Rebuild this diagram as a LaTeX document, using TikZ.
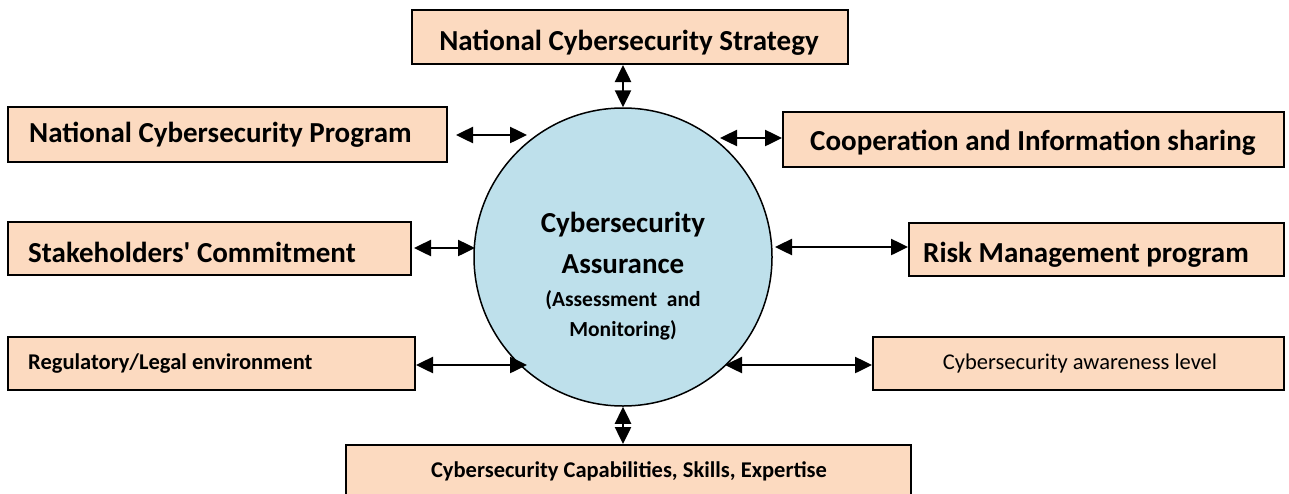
\documentclass[tikz,border=0pt]{standalone}
\usepackage{fontspec}
\setmainfont{Carlito}
\usetikzlibrary{arrows.meta}
\definecolor{peach}{HTML}{FCDAC0}
\definecolor{hubblue}{HTML}{BEE0EB}
\tikzset{
  box/.style={draw=black, line width=2pt, fill=peach, inner sep=0pt, anchor=north west},
  hub/.style={circle, draw=black, line width=1.5pt, fill=hubblue, inner sep=0pt, minimum size=298pt},
  ttl/.style={font=\bfseries\fontsize{29}{34}\selectfont, inner sep=0pt},
  sml/.style={font=\bfseries\fontsize{22.5}{27}\selectfont, inner sep=0pt},
  smlr/.style={font=\fontsize{22.5}{27}\selectfont, inner sep=0pt},
  sub/.style={font=\bfseries\fontsize{21.5}{26}\selectfont, inner sep=0pt},
  arr/.style={line width=2.5pt, {Triangle[length=17pt,width=16pt]}-{Triangle[length=17pt,width=16pt]}}
}
\begin{document}
\begin{tikzpicture}[x=1pt,y=-1pt]
\useasboundingbox (0,0) rectangle (1289,493);
% boxes
\node[box, minimum width=436pt, minimum height=54pt] (strat) at (411,9) {};
\node[box, minimum width=439pt, minimum height=55pt] (prog) at (7,106) {};
\node[box, minimum width=501pt, minimum height=55pt] (coop) at (782,111) {};
\node[box, minimum width=403pt, minimum height=53pt] (stake) at (7,221) {};
\node[box, minimum width=375pt, minimum height=53pt] (risk) at (908,222) {};
\node[box, minimum width=407pt, minimum height=53pt] (reg) at (7,336) {};
\node[box, minimum width=411pt, minimum height=53pt] (aware) at (872,336) {};
\node[box, minimum width=565pt, minimum height=70pt] (capab) at (345,444) {};
% hub
\node[hub] (C) at (623,257) {};
% texts
\node[ttl, anchor=base] (stratT) at (629,50) {National Cybersecurity Strategy};
\node[ttl, anchor=base west] (progT) at (29,142) {National Cybersecurity Program};
\node[ttl, anchor=base west] (coopT) at (810,150) {Cooperation and Information sharing};
\node[ttl, anchor=base west] (stakeT) at (28,262) {Stakeholders\textquotesingle\ Commitment};
\node[ttl, anchor=base west] (riskT) at (923,262) {Risk Management program};
\node[sml, anchor=base west] (regT) at (28,369) {Regulatory/Legal environment};
\node[smlr, anchor=base] (awareT) at (1080,369) {Cybersecurity awareness level};
\node[sml, anchor=base] (capabT) at (629,477) {Cybersecurity Capabilities, Skills, Expertise};
\node[ttl, anchor=base] (hubT1) at (623,232) {Cybersecurity};
\node[ttl, anchor=base] (hubT2) at (623,273) {Assurance};
\node[sub, anchor=base] (hubT3) at (623,306) {(Assessment\ \ and};
\node[sub, anchor=base] (hubT4) at (623,336) {Monitoring)};
% arrow end points
\coordinate (a1) at (527,135);
\coordinate (b1) at (720,138);
\coordinate (a2) at (475,248);
\coordinate (b2) at (775,247);
\coordinate (a3) at (527,365);
\coordinate (b3) at (725,365);
% connectors
\draw[arr] (C.north |- strat.south) -- (C.north);
\draw[arr] (C.south) -- (C.south |- capab.north);
\draw[arr, shorten <=8pt] (prog.east |- a1) -- (a1);
\draw[arr] (b1) -- (coop.west |- b1);
\draw[arr, shorten <=2pt] (stake.east |- a2) -- (a2);
\draw[arr] (b2) -- (risk.west |- b2);
\draw[arr] (reg.east |- a3) -- (a3);
\draw[arr] (b3) -- (aware.west |- b3);
\end{tikzpicture}
\end{document}
